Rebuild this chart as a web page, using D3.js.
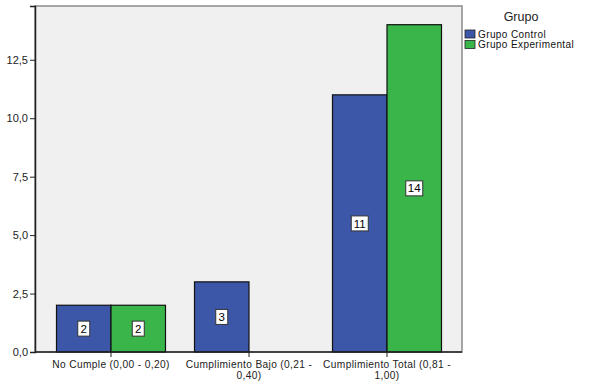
<!DOCTYPE html>
<html>
<head>
<meta charset="utf-8">
<script src="https://cdn.jsdelivr.net/npm/d3@7"></script>
<style>
  body { margin: 0; background: #fff; }
  svg { font-family: "Liberation Sans", Arial, sans-serif; }
</style>
</head>
<body>
<div id="chart"></div>
<script>
// categories and series
var categories = ["No Cumple (0,00 - 0,20)", "Cumplimiento Bajo (0,21 - 0,40)", "Cumplimiento Total (0,81 - 1,00)"];
var catLines = [["No Cumple (0,00 - 0,20)"], ["Cumplimiento Bajo (0,21 -", "0,40)"], ["Cumplimiento Total (0,81 -", "1,00)"]];
var seriesNames = ["Grupo Control", "Grupo Experimental"];
var control = [2, 3, 11];
var experimental = [2, null, 14];
var yTicks = [0, 2.5, 5, 7.5, 10, 12.5];

var W = 589, H = 386;
var plot = { left: 35, top: 6, right: 462, bottom: 352 };

var svg = d3.select("#chart").append("svg")
  .attr("width", W).attr("height", H);

var color = d3.scaleOrdinal().domain(seriesNames).range(["#3d57a8", "#39b54a"]);

var y = d3.scaleLinear().domain([0, 14.8]).range([plot.bottom, plot.top]);
var x = d3.scaleBand().domain(categories).range([42, 456]);
var xSub = d3.scaleBand().domain(seriesNames).range([14.5, 123.5]);

// plot background
svg.append("rect")
  .attr("x", plot.left).attr("y", plot.top)
  .attr("width", plot.right - plot.left).attr("height", plot.bottom - plot.top)
  .attr("fill", "#f0f0f0")
  .attr("stroke", "#8a8a8a").attr("stroke-width", 1.5);

var data = [];
categories.forEach(function (c, i) {
  data.push({ cat: c, s: seriesNames[0], v: control[i] });
  data.push({ cat: c, s: seriesNames[1], v: experimental[i] });
});
data = data.filter(function (d) { return d.v != null; });

var g = svg.append("g");
g.selectAll("rect.bar").data(data).enter().append("rect")
  .attr("class", "bar")
  .attr("x", function (d) { return x(d.cat) + xSub(d.s); })
  .attr("y", function (d) { return y(d.v); })
  .attr("width", xSub.bandwidth())
  .attr("height", function (d) { return y(0) - y(d.v); })
  .attr("fill", function (d) { return color(d.s); })
  .attr("stroke", "#111").attr("stroke-width", 1.2);

// value labels
var lab = g.selectAll("g.lab").data(data).enter().append("g")
  .attr("class", "lab")
  .attr("transform", function (d) {
    return "translate(" + (x(d.cat) + xSub(d.s) + xSub.bandwidth() / 2) + "," + ((y(d.v) + y(0)) / 2) + ")";
  });
lab.append("rect")
  .attr("x", function (d) { return String(d.v).length > 1 ? -8.5 : -6; })
  .attr("y", -7.5)
  .attr("width", function (d) { return String(d.v).length > 1 ? 17 : 12; })
  .attr("height", 15)
  .attr("fill", "#fff").attr("stroke", "#333").attr("stroke-width", 1);
lab.append("text")
  .attr("text-anchor", "middle").attr("dy", "0.36em")
  .attr("font-size", 11.5).attr("fill", "#000")
  .text(function (d) { return d.v; });

// y axis
var yAxis = svg.append("g")
  .attr("transform", "translate(" + plot.left + ",0)")
  .call(d3.axisLeft(y).tickValues(yTicks).tickSize(5).tickPadding(2)
    .tickFormat(function (d) { return d3.format(".1f")(d).replace(".", ","); }));
yAxis.select(".domain").attr("stroke", "#222").attr("stroke-width", 1.5);
yAxis.selectAll(".tick line").attr("stroke", "#222");
yAxis.selectAll(".tick text").attr("font-size", 11).attr("fill", "#222")
  .attr("font-family", "Liberation Sans, Arial, sans-serif");

// x axis
var xAxis = svg.append("g")
  .attr("transform", "translate(0," + plot.bottom + ")")
  .call(d3.axisBottom(x).tickSize(5).tickFormat(""));
xAxis.select(".domain").attr("stroke", "#222").attr("stroke-width", 1.5)
  .attr("d", "M" + plot.left + ",0H" + plot.right);
xAxis.selectAll(".tick line").attr("stroke", "#222");
xAxis.selectAll(".tick").each(function (d, i) {
  var t = d3.select(this).append("text")
    .attr("text-anchor", "middle").attr("font-size", 10.2).attr("fill", "#222")
    .attr("letter-spacing", 0.35)
    .attr("font-family", "Liberation Sans, Arial, sans-serif");
  catLines[i].forEach(function (line, j) {
    t.append("tspan").attr("x", 0).attr("y", 16 + j * 10.5).text(line);
  });
});

// legend
var leg = svg.append("g");
leg.append("text").attr("x", 521).attr("y", 21)
  .attr("text-anchor", "middle").attr("font-size", 12.5).attr("fill", "#222")
  .text("Grupo");
var li = leg.selectAll("g.li").data(seriesNames).enter().append("g")
  .attr("transform", function (d, i) { return "translate(465," + (30 + i * 10.5) + ")"; });
li.append("rect").attr("width", 10).attr("height", 8)
  .attr("fill", function (d) { return color(d); })
  .attr("stroke", "#222").attr("stroke-width", 0.8);
li.append("text").attr("x", 13).attr("y", 7.5)
  .attr("font-size", 10).attr("letter-spacing", 0.4).attr("fill", "#111")
  .text(function (d) { return d; });
</script>
</body>
</html>
